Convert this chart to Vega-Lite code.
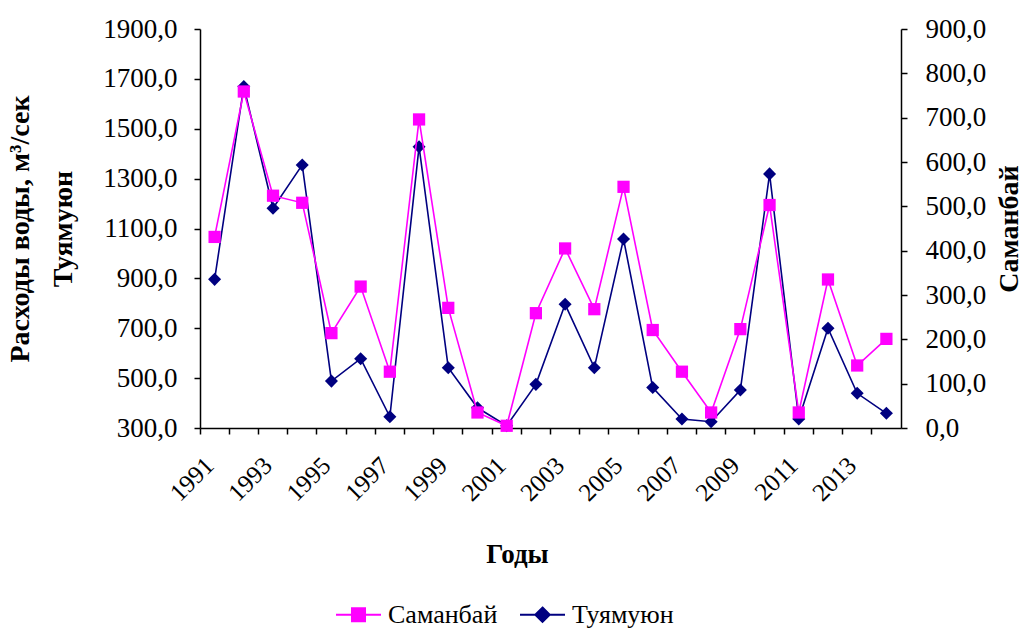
{
  "$schema": "https://vega.github.io/schema/vega-lite/v6.json",
  "width": 701,
  "height": 399,
  "autosize": {"type": "none"},
  "padding": {"left": 200, "top": 29, "right": 130, "bottom": 203},
  "background": "white",
  "config": {
    "view": {"stroke": null},
    "font": "Liberation Serif",
    "axis": {
      "grid": false,
      "domainColor": "black",
      "domainWidth": 1.5,
      "tickColor": "black",
      "tickWidth": 1.5,
      "labelColor": "black",
      "titleColor": "black",
      "labelFont": "Liberation Serif",
      "titleFont": "Liberation Serif",
      "labelFontSize": 27,
      "titleFontSize": 27,
      "titleFontWeight": "bold"
    }
  },
  "data": {
    "values": [
      {"year": "1991", "series": "Саманбай", "value": 431},
      {"year": "1992", "series": "Саманбай", "value": 759},
      {"year": "1993", "series": "Саманбай", "value": 524},
      {"year": "1994", "series": "Саманбай", "value": 508},
      {"year": "1995", "series": "Саманбай", "value": 214},
      {"year": "1996", "series": "Саманбай", "value": 319},
      {"year": "1997", "series": "Саманбай", "value": 127},
      {"year": "1998", "series": "Саманбай", "value": 696},
      {"year": "1999", "series": "Саманбай", "value": 271},
      {"year": "2000", "series": "Саманбай", "value": 35},
      {"year": "2001", "series": "Саманбай", "value": 5},
      {"year": "2002", "series": "Саманбай", "value": 259},
      {"year": "2003", "series": "Саманбай", "value": 405},
      {"year": "2004", "series": "Саманбай", "value": 268},
      {"year": "2005", "series": "Саманбай", "value": 544},
      {"year": "2006", "series": "Саманбай", "value": 221},
      {"year": "2007", "series": "Саманбай", "value": 127},
      {"year": "2008", "series": "Саманбай", "value": 35},
      {"year": "2009", "series": "Саманбай", "value": 223},
      {"year": "2010", "series": "Саманбай", "value": 503},
      {"year": "2011", "series": "Саманбай", "value": 35},
      {"year": "2012", "series": "Саманбай", "value": 335},
      {"year": "2013", "series": "Саманбай", "value": 141},
      {"year": "2014", "series": "Саманбай", "value": 201},
      {"year": "1991", "series": "Туямуюн", "value": 896},
      {"year": "1992", "series": "Туямуюн", "value": 1669},
      {"year": "1993", "series": "Туямуюн", "value": 1181},
      {"year": "1994", "series": "Туямуюн", "value": 1355},
      {"year": "1995", "series": "Туямуюн", "value": 488},
      {"year": "1996", "series": "Туямуюн", "value": 578},
      {"year": "1997", "series": "Туямуюн", "value": 345},
      {"year": "1998", "series": "Туямуюн", "value": 1428},
      {"year": "1999", "series": "Туямуюн", "value": 542},
      {"year": "2000", "series": "Туямуюн", "value": 381},
      {"year": "2001", "series": "Туямуюн", "value": 309},
      {"year": "2002", "series": "Туямуюн", "value": 475},
      {"year": "2003", "series": "Туямуюн", "value": 796},
      {"year": "2004", "series": "Туямуюн", "value": 542},
      {"year": "2005", "series": "Туямуюн", "value": 1058},
      {"year": "2006", "series": "Туямуюн", "value": 462},
      {"year": "2007", "series": "Туямуюн", "value": 336},
      {"year": "2008", "series": "Туямуюн", "value": 325},
      {"year": "2009", "series": "Туямуюн", "value": 452},
      {"year": "2010", "series": "Туямуюн", "value": 1319},
      {"year": "2011", "series": "Туямуюн", "value": 336},
      {"year": "2012", "series": "Туямуюн", "value": 700},
      {"year": "2013", "series": "Туямуюн", "value": 439},
      {"year": "2014", "series": "Туямуюн", "value": 359}
    ]
  },
  "encoding": {
    "x": {
      "field": "year",
      "type": "ordinal",
      "scale": {"type": "band", "paddingInner": 0, "paddingOuter": 0},
      "axis": {
        "title": "Годы",
        "titleFontSize": 27,
        "titleX": 317,
        "titleY": 113,
        "titleBaseline": "top",
        "bandPosition": 0,
        "labelAngle": -45,
        "labelAlign": "right",
        "labelBaseline": "middle",
        "labelFontSize": 25,
        "labelOffset": -5,
        "labelPadding": 27,
        "tickSize": 6,
        "labelOverlap": false,
        "labelExpr": "toNumber(datum.value) % 2 === 1 ? datum.value : ''"
      }
    },
    "color": {
      "field": "series",
      "type": "nominal",
      "scale": {"domain": ["Саманбай", "Туямуюн"], "range": ["#FF00FF", "#000080"]},
      "legend": {
        "title": null,
        "orient": "none",
        "direction": "horizontal",
        "legendX": 135,
        "legendY": 562,
        "labelFont": "Liberation Serif",
        "labelFontSize": 26,
        "labelColor": "black",
        "labelOffset": 6,
        "columnPadding": 18,
        "symbolSize": 2025,
        "symbolStrokeWidth": 2,
        "encode": {
          "symbols": {
            "update": {
              "shape": {"signal": "datum.value === 'Саманбай' ? 'M-1,0L1,0M-0.29,-0.29L0.29,-0.29L0.29,0.29L-0.29,0.29Z' : 'M-1,0L1,0M0,-0.32L0.32,0L0,0.32L-0.32,0Z'"},
              "fill": {"signal": "datum.value === 'Саманбай' ? '#FF00FF' : '#000080'"},
              "stroke": {"signal": "datum.value === 'Саманбай' ? '#FF00FF' : '#000080'"},
              "strokeWidth": {"value": 2},
              "opacity": {"value": 1}
            }
          }
        }
      }
    }
  },
  "layer": [
    {
      "transform": [{"filter": "datum.series === 'Туямуюн'"}],
      "encoding": {
        "y": {
          "field": "value",
          "type": "quantitative",
          "scale": {"domain": [300, 1900], "nice": false, "zero": false},
          "axis": {
            "orient": "left",
            "values": [300, 500, 700, 900, 1100, 1300, 1500, 1700, 1900],
            "labelExpr": "replace(format(datum.value, '.1f'), '.', ',')",
            "tickSize": 6,
            "labelPadding": 17,
            "title": ["Расходы воды, м³/сек", "Туямуюн"],
            "titleFontSize": 28,
            "titlePadding": 25,
            "titleLineHeight": 43
          }
        }
      },
      "layer": [
        {"mark": {"type": "line", "strokeWidth": 1.6}},
        {"mark": {"type": "point", "shape": "diamond", "filled": true, "size": 170, "opacity": 1, "color": "#000080"}}
      ]
    },
    {
      "transform": [{"filter": "datum.series === 'Саманбай'"}],
      "encoding": {
        "y": {
          "field": "value",
          "type": "quantitative",
          "scale": {"domain": [0, 900], "nice": false},
          "axis": {
            "orient": "right",
            "values": [0, 100, 200, 300, 400, 500, 600, 700, 800, 900],
            "labelExpr": "replace(format(datum.value, '.1f'), '.', ',')",
            "tickSize": 6,
            "labelPadding": 18,
            "title": "Саманбай",
            "titleFontSize": 28,
            "titleAngle": 270,
            "titleBaseline": "top",
            "titlePadding": 10
          }
        }
      },
      "layer": [
        {"mark": {"type": "line", "strokeWidth": 1.6}},
        {"mark": {"type": "point", "shape": "square", "filled": true, "size": 150, "opacity": 1, "color": "#FF00FF"}}
      ]
    }
  ],
  "resolve": {"scale": {"y": "independent"}}
}
